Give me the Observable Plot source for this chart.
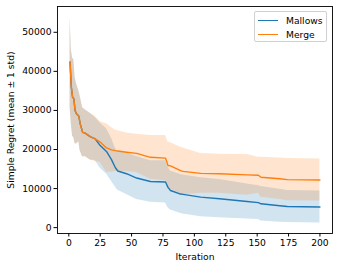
<!DOCTYPE html>
<html>
<head>
<meta charset="utf-8">
<script src="https://cdn.jsdelivr.net/npm/d3@7"></script>
<script src="https://cdn.jsdelivr.net/npm/@observablehq/plot@0.6"></script>
<style>
  html, body { margin: 0; padding: 0; background: #fff; }
  #wrap { position: relative; width: 339px; height: 269px; font-family: "DejaVu Sans", sans-serif; }
  #legend { position: absolute; left: 254px; top: 11px; width: 73px; height: 31px; background: rgba(255,255,255,0.8);
            border: 1px solid #d0d0d0; border-radius: 2px; font-size: 9.2px; color: #000; box-sizing: border-box; }
  .item { position: absolute; left: 3px; height: 12px; display: flex; align-items: center; }
  .sw { width: 20px; height: 0; border-top: 1.5px solid; margin-right: 8px; }
</style>
</head>
<body>
<div id="wrap"><div id="legend"></div></div>
<script>
const iterations = [1,2,3,4,5,6,8,9,11,13,17,21,25,30,34,37,39,46,54,65,77,79,81,89,91,105,120,142,151,153,168,174,200];
const mergeMean  = [42400,36000,33400,33000,30000,29200,28500,26700,24400,24200,23300,22700,21900,20400,19900,19700,19600,19300,19000,18000,17800,15900,15800,14600,14400,13900,13800,13500,13400,12900,12500,12300,12200];
const mergeStd   = [11500,9500,10000,10000,8500,7800,6500,7000,6300,6000,6000,5800,5200,6200,5700,5300,5200,4900,4900,5600,5800,6000,5900,6000,6000,5100,5000,5200,4600,5100,5300,5400,5400];
const mallowsMean= [42400,36000,33400,33000,30000,29200,28500,26700,24400,24200,23300,22700,21000,19500,17400,15400,14500,13800,12700,11800,11700,10300,9500,8600,8500,7800,7400,6700,6400,6100,5600,5400,5300];
const mallowsStd = [11500,9500,10000,10000,8500,7800,6500,7000,6300,6000,6000,5500,5800,5800,5500,5000,4900,5300,5500,5300,5400,5200,5000,5000,5000,5000,4900,4500,4300,4400,4200,4100,4100];
const seriesNames = ["Mallows", "Merge"];
const seriesColors = ["#1f77b4", "#ff7f0e"];
const xTicks = [0,25,50,75,100,125,150,175,200];
const yTicks = [0,10000,20000,30000,40000,50000];

const means = {Mallows: mallowsMean, Merge: mergeMean};
const stds = {Mallows: mallowsStd, Merge: mergeStd};
const rows = seriesNames.flatMap(s => iterations.map((it, i) => ({
  series: s, iter: it, mean: means[s][i], lo: means[s][i] - stds[s][i], hi: means[s][i] + stds[s][i]
})));
const color = s => seriesColors[seriesNames.indexOf(s)];

const chart = Plot.plot({
  width: 339, height: 269,
  marginLeft: 57, marginRight: 7, marginTop: 6, marginBottom: 36,
  style: {fontFamily: "DejaVu Sans", fontSize: "9.2px", color: "#000", background: "#fff"},
  x: {domain: [-9, 210]},
  y: {domain: [-1500, 56600]},
  marks: [
    ...seriesNames.map(s => Plot.areaY(rows.filter(d => d.series === s),
      {x: "iter", y1: "lo", y2: "hi", fill: color(s), fillOpacity: 0.2})),
    ...seriesNames.map(s => Plot.lineY(rows.filter(d => d.series === s),
      {x: "iter", y: "mean", stroke: color(s), strokeWidth: 1.4})),
    Plot.frame({stroke: "#000", strokeWidth: 0.9}),
    Plot.axisX({ticks: xTicks, tickSize: 3.5, tickPadding: 2.5, label: "Iteration", labelAnchor: "center", labelArrow: "none", labelOffset: 26, tickFormat: d3.format("d")}),
    Plot.axisY({ticks: yTicks, tickSize: 3.5, tickPadding: 2.5, label: "Simple Regret (mean ± 1 std)", labelAnchor: "center", labelArrow: "none", labelOffset: 50, tickFormat: d3.format("d")})
  ]
});
document.getElementById("wrap").prepend(chart);

const legend = document.getElementById("legend");
seriesNames.forEach((s, i) => {
  const it = document.createElement("div");
  it.className = "item";
  it.style.top = (2 + i * 14) + "px";
  const sw = document.createElement("span");
  sw.className = "sw"; sw.style.borderColor = seriesColors[i];
  const tx = document.createElement("span");
  tx.textContent = s;
  it.append(sw, tx);
  legend.append(it);
});
</script>
</body>
</html>
